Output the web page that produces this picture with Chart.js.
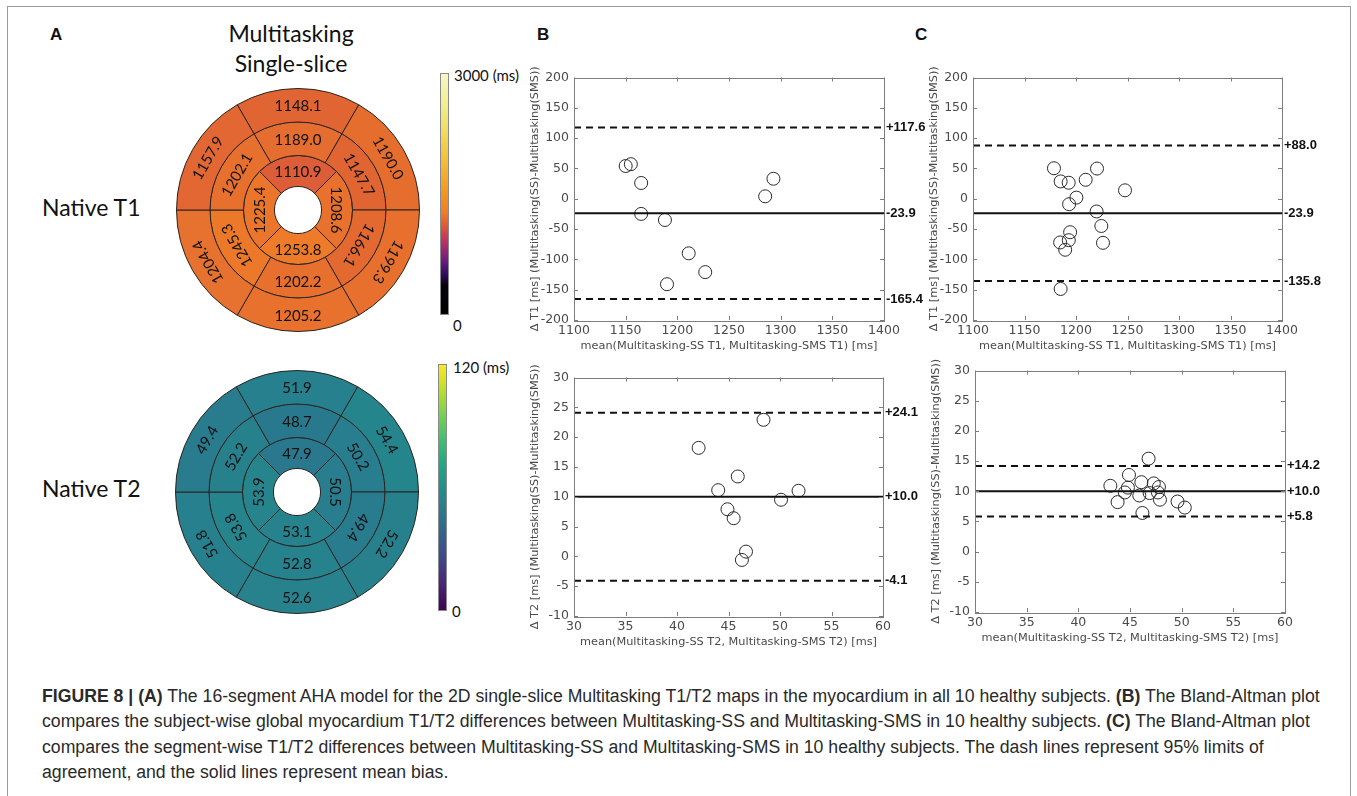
<!DOCTYPE html>
<html>
<head>
<meta charset="utf-8">
<script src="https://cdn.jsdelivr.net/npm/chart.js@4.4.1/dist/chart.umd.min.js"></script>
<style>
  body { margin: 0; background: #fff; width: 1357px; height: 796px; overflow: hidden; position: relative; font-family: Lato, "Open Sans", sans-serif; }
  #frame { position: absolute; left: 7px; top: 6px; width: 1342px; height: 820px; border: 1.5px solid #9b9b9b; }
  .panel { position: absolute; font-family: "Liberation Sans", Arial, sans-serif; font-weight: bold; font-size: 17px; line-height: 20px; color: #111; }
  .head { position: absolute; left: 191px; width: 200px; text-align: center; font-size: 23px; line-height: 30px; color: #111; }
  .row { position: absolute; left: 42px; font-size: 23px; line-height: 30px; color: #111; }
  .cbar { position: absolute; width: 9px; box-sizing: border-box; border: 1px solid #8a8a8a; }
  .cbl { position: absolute; font-size: 15px; line-height: 18px; color: #111; white-space: nowrap; }
  canvas { position: absolute; }
  #caption { position: absolute; left: 42px; top: 684px; color: #2a2a2a; font-family: "Liberation Sans", Arial, sans-serif; font-size: 18px; line-height: 25.3px; white-space: nowrap; transform-origin: 0 0; }
  #caption div { height: 25.3px; }
</style>
</head>
<body>
<div id="frame"></div>

<div class="panel" style="left:50px; top:25px;">A</div>
<div class="panel" style="left:537px; top:25px;">B</div>
<div class="panel" style="left:915px; top:25px;">C</div>

<div class="head" style="top:18px;">Multitasking</div>
<div class="head" style="top:48px;">Single-slice</div>
<div class="row" style="top:192px;">Native T1</div>
<div class="row" style="top:473px;">Native T2</div>

<canvas id="bullT1" width="244" height="244" style="left:176px; top:88px;"></canvas>
<canvas id="bullT2" width="244" height="244" style="left:175px; top:370px;"></canvas>

<div class="cbar" id="barT1" style="left:440px; top:73px; height:242px;"></div>
<div class="cbl" style="left:454px; top:66px;">3000 (ms)</div>
<div class="cbl" style="left:453px; top:316px;">0</div>
<div class="cbar" id="barT2" style="left:438px; top:364px; height:247px;"></div>
<div class="cbl" style="left:453px; top:358px;">120 (ms)</div>
<div class="cbl" style="left:452px; top:602px;">0</div>

<canvas id="baSubjT1"></canvas>
<canvas id="baSegT1"></canvas>
<canvas id="baSubjT2"></canvas>
<canvas id="baSegT2"></canvas>

<div id="caption">
  <div id="cap1"><b>FIGURE 8 | (A)</b> The 16-segment AHA model for the 2D single-slice Multitasking T1/T2 maps in the myocardium in all 10 healthy subjects. <b>(B)</b> The Bland-Altman plot</div>
  <div>compares the subject-wise global myocardium T1/T2 differences between Multitasking-SS and Multitasking-SMS in 10 healthy subjects. <b>(C)</b> The Bland-Altman plot</div>
  <div>compares the segment-wise T1/T2 differences between Multitasking-SS and Multitasking-SMS in 10 healthy subjects. The dash lines represent 95% limits of</div>
  <div>agreement, and the solid lines represent mean bias.</div>
</div>

<script>
// AHA segments, clockwise from the anterior (top) segment
const basalT1 = [1148.1, 1190.0, 1199.3, 1205.2, 1204.4, 1157.9];
const midT1 = [1189.0, 1147.7, 1166.1, 1202.2, 1245.3, 1202.1];
const apicalT1 = [1110.9, 1208.6, 1253.8, 1225.4];
const basalT2 = [51.9, 54.4, 52.2, 52.6, 51.8, 49.4];
const midT2 = [48.7, 50.2, 49.4, 52.8, 53.8, 52.2];
const apicalT2 = [47.9, 50.5, 53.1, 53.9];
const t1Max = 3000;
const t2Max = 120;

// B: subject-wise (10 subjects)
const subjT1Mean = [1150, 1155, 1165, 1165, 1188, 1211, 1227, 1190, 1285, 1293];
const subjT1Diff = [54, 57, 26, -25, -35, -90, -121, -141, 4, 33];
const subjT1Lims = [117.6, -23.9, -165.4];
const subjT2Mean = [42.1, 48.4, 45.9, 44.0, 51.8, 50.1, 44.9, 45.5, 46.7, 46.3];
const subjT2Diff = [18.2, 22.9, 13.4, 11.1, 11.0, 9.5, 7.9, 6.4, 0.8, -0.6];
const subjT2Lims = [24.1, 10.0, -4.1];

// C: segment-wise (16 segments)
const segT1Mean = [1178.6, 1185.1, 1192.9, 1209.4, 1220.4, 1247.6, 1200.4, 1193.3, 1220.0, 1224.6, 1194.3, 1193.0, 1184.6, 1189.5, 1226.2, 1185.1];
const segT1Diff = [50.3, 28.6, 26.4, 31.3, 49.8, 13.9, 1.9, -9.0, -21.0, -44.9, -55.2, -68.3, -72.1, -84.1, -72.7, -148.8];
const segT1Lims = [88.0, -23.9, -135.8];
const segT2Mean = [43.1, 43.8, 44.5, 44.8, 44.9, 46.1, 45.9, 46.2, 46.9, 47.3, 47.8, 47.7, 47.9, 49.6, 50.3, 46.8];
const segT2Diff = [10.9, 8.2, 9.8, 10.6, 12.7, 11.5, 9.3, 6.4, 9.7, 11.3, 10.7, 9.8, 8.6, 8.3, 7.3, 15.4];
const segT2Lims = [14.2, 10.0, 5.8];

// axis ranges and tick steps
const t1XRange = [1100, 1400];
const t1YRange = [-200, 200];
const t1Step = 50;
const t2XRange = [30, 60];
const t2YRange = [-10, 30];
const t2Step = 5;

// colour maps (stop position, colour)
const t1Stops = [[0, '#000000'], [0.12, '#050308'], [0.16, '#2a0b5a'], [0.22, '#6a1a80'], [0.28, '#a82a6e'], [0.33, '#cc4050'], [0.36, '#d8573a'], [0.42, '#ee7c28'], [0.52, '#f59a22'], [0.64, '#f3bf3a'], [0.78, '#efe066'], [0.9, '#f3f19a'], [1, '#f7f7c6']];
const t2Stops = [[0, '#440154'], [0.1, '#482475'], [0.2, '#414487'], [0.3, '#355f8d'], [0.4, '#2a788e'], [0.5, '#21918c'], [0.6, '#22a884'], [0.7, '#44bf70'], [0.8, '#7ad151'], [0.9, '#bddf26'], [1, '#fde725']];

function hex(c) { return [1, 3, 5].map(i => parseInt(c.slice(i, i + 2), 16)); }
function cmap(stops, t) {
    t = Math.min(1, Math.max(0, t));
    for (let i = 1; i < stops.length; i++) {
        if (t <= stops[i][0]) {
            const [p0, c0] = stops[i - 1], [p1, c1] = stops[i];
            const f = (t - p0) / (p1 - p0);
            const a = hex(c0), b = hex(c1);
            return 'rgb(' + a.map((v, k) => Math.round(v + (b[k] - v) * f)).join(',') + ')';
        }
    }
    return stops[stops.length - 1][1];
}

document.getElementById('barT1').style.background = 'linear-gradient(to top, ' + t1Stops.map(s => s[1] + ' ' + (s[0] * 100) + '%').join(', ') + ')';
document.getElementById('barT2').style.background = 'linear-gradient(to top, ' + t2Stops.map(s => s[1] + ' ' + (s[0] * 100) + '%').join(', ') + ')';

// segment values written along each ring
const segLabels = {
    id: 'segLabels',
    afterDatasetsDraw(chart) {
        const ctx = chart.ctx;
        ctx.save();
        ctx.font = '15px Lato, "Open Sans", sans-serif';
        ctx.fillStyle = '#111';
        ctx.textAlign = 'center';
        ctx.textBaseline = 'middle';
        chart.data.datasets.forEach((ds, i) => {
            chart.getDatasetMeta(i).data.forEach((arc, j) => {
                const p = arc.getProps(['x', 'y', 'startAngle', 'endAngle', 'innerRadius', 'outerRadius']);
                const mid = (p.startAngle + p.endAngle) / 2;
                const r = (p.innerRadius + p.outerRadius) / 2;
                let rot = ((mid + Math.PI / 2) % (2 * Math.PI) + 2 * Math.PI) % (2 * Math.PI);
                if (Math.abs(rot - Math.PI) < 0.01) rot = 0;
                ctx.save();
                ctx.translate(p.x + Math.cos(mid) * r, p.y + Math.sin(mid) * r);
                ctx.rotate(rot);
                ctx.fillText(ds.values[j].toFixed(1), 0, 1);
                ctx.restore();
            });
        });
        ctx.restore();
    }
};

function bullseye(id, rings, stops, vmax) {
    const weights = [33, 33, 30.5];
    new Chart(document.getElementById(id), {
        type: 'doughnut',
        data: {
            labels: rings[0].map((_, i) => 'S' + (i + 1)),
            datasets: rings.map((vals, k) => ({
                data: vals.map(() => 1),
                values: vals,
                rotation: vals.length === 6 ? -30 : -45,
                backgroundColor: vals.map(v => cmap(stops, v / vmax)),
                borderColor: '#2b2520',
                borderWidth: 1,
                weight: weights[k]
            }))
        },
        options: {
            responsive: false,
            animation: false,
            events: [],
            cutout: '19.4%',
            layout: { padding: 0 },
            plugins: { legend: { display: false }, tooltip: { enabled: false } }
        },
        plugins: [segLabels]
    });
}

bullseye('bullT1', [basalT1, midT1, apicalT1], t1Stops, t1Max);
bullseye('bullT2', [basalT2, midT2, apicalT2], t2Stops, t2Max);

// frame, inward ticks and the limit values on the right
const baDecor = {
    id: 'baDecor',
    afterDraw(chart, args, opts) {
        const {ctx, chartArea: a, scales: {x, y}} = chart;
        ctx.save();
        ctx.strokeStyle = '#7d7d7d';
        ctx.lineWidth = 1;
        ctx.strokeRect(Math.round(a.left) + 0.5, Math.round(a.top) + 0.5, Math.round(a.right - a.left), Math.round(a.bottom - a.top));
        ctx.beginPath();
        x.ticks.forEach(t => {
            const px = Math.round(x.getPixelForValue(t.value)) + 0.5;
            ctx.moveTo(px, a.bottom); ctx.lineTo(px, a.bottom - 4);
            ctx.moveTo(px, a.top); ctx.lineTo(px, a.top + 4);
        });
        y.ticks.forEach(t => {
            const py = Math.round(y.getPixelForValue(t.value)) + 0.5;
            ctx.moveTo(a.left, py); ctx.lineTo(a.left + 4, py);
            ctx.moveTo(a.right, py); ctx.lineTo(a.right - 4, py);
        });
        ctx.stroke();
        ctx.fillStyle = '#111';
        ctx.font = 'bold 13px "Liberation Sans", Arial, sans-serif';
        ctx.textAlign = 'left';
        ctx.textBaseline = 'middle';
        opts.values.forEach(v => {
            const txt = (v > 0 ? '+' : '') + v.toFixed(1);
            ctx.fillText(txt, a.right + 2, y.getPixelForValue(v));
        });
        ctx.restore();
    }
};

function blandAltman(id, box, xs, ys, lims, xr, yr, step, xTitle, yTitle) {
    const cv = document.getElementById(id);
    cv.width = box.w + 46 + 52;
    cv.height = box.h + 10 + 40;
    cv.style.left = (box.x - 46) + 'px';
    cv.style.top = (box.y - 10) + 'px';
    const tickFont = { family: 'DejaVu Sans', size: 12.5 };
    const titleFont = { family: 'DejaVu Sans', size: 11.3 };
    new Chart(cv, {
        type: 'scatter',
        data: {
            datasets: [
                ...lims.map((v, i) => ({
                    data: [{ x: xr[0], y: v }, { x: xr[1], y: v }],
                    showLine: true,
                    borderColor: '#111',
                    borderWidth: 2,
                    borderDash: i === 1 ? [] : [7, 5],
                    pointRadius: 0
                })),
                {
                    data: xs.map((v, i) => ({ x: v, y: ys[i] })),
                    pointRadius: 6.5,
                    pointBorderWidth: 1,
                    pointBorderColor: '#2a2a2a',
                    pointBackgroundColor: 'rgba(0,0,0,0)'
                }
            ]
        },
        options: {
            responsive: false,
            animation: false,
            events: [],
            layout: { padding: { left: 0, top: 10, right: 52, bottom: 0 } },
            plugins: { legend: { display: false }, tooltip: { enabled: false }, baDecor: { values: lims } },
            scales: {
                x: {
                    type: 'linear', min: xr[0], max: xr[1],
                    afterFit: s => { s.height = 40; },
                    grid: { display: false, drawTicks: false },
                    border: { display: false },
                    ticks: { stepSize: step, padding: 3, color: '#4a4a4a', font: tickFont, maxRotation: 0, autoSkip: false, callback: v => String(v) },
                    title: { display: true, text: xTitle, color: '#4a4a4a', font: titleFont, padding: { top: 0, bottom: 7 } }
                },
                y: {
                    type: 'linear', min: yr[0], max: yr[1],
                    afterFit: s => { s.width = 46; },
                    grid: { display: false, drawTicks: false },
                    border: { display: false },
                    ticks: { stepSize: step, padding: 5, color: '#4a4a4a', font: tickFont, autoSkip: false, callback: v => String(v) },
                    title: { display: true, text: yTitle, color: '#4a4a4a', font: titleFont, padding: { top: 0, bottom: 0 } }
                }
            }
        },
        plugins: [baDecor]
    });
}

const xT1 = 'mean(Multitasking-SS T1, Multitasking-SMS T1) [ms]';
const yT1 = '\u0394 T1 [ms] (Multitasking(SS)-Multitasking(SMS))';
const xT2 = 'mean(Multitasking-SS T2, Multitasking-SMS T2) [ms]';
const yT2 = '\u0394 T2 [ms] (Multitasking(SS)-Multitasking(SMS))';

blandAltman('baSubjT1', { x: 574, y: 75, w: 310, h: 245 }, subjT1Mean, subjT1Diff, subjT1Lims, t1XRange, t1YRange, t1Step, xT1, yT1);
blandAltman('baSegT1', { x: 973, y: 75, w: 309, h: 245 }, segT1Mean, segT1Diff, segT1Lims, t1XRange, t1YRange, t1Step, xT1, yT1);
blandAltman('baSubjT2', { x: 574, y: 375, w: 309, h: 241 }, subjT2Mean, subjT2Diff, subjT2Lims, t2XRange, t2YRange, t2Step, xT2, yT2);
blandAltman('baSegT2', { x: 975, y: 368, w: 310, h: 244 }, segT2Mean, segT2Diff, segT2Lims, t2XRange, t2YRange, t2Step, xT2, yT2);

// squeeze the caption horizontally to the reference line length (condensed face)
const cap = document.getElementById('caption');
const w1 = document.getElementById('cap1').scrollWidth;
cap.style.transform = 'scaleX(' + (1278 / w1).toFixed(4) + ')';
</script>
</body>
</html>
